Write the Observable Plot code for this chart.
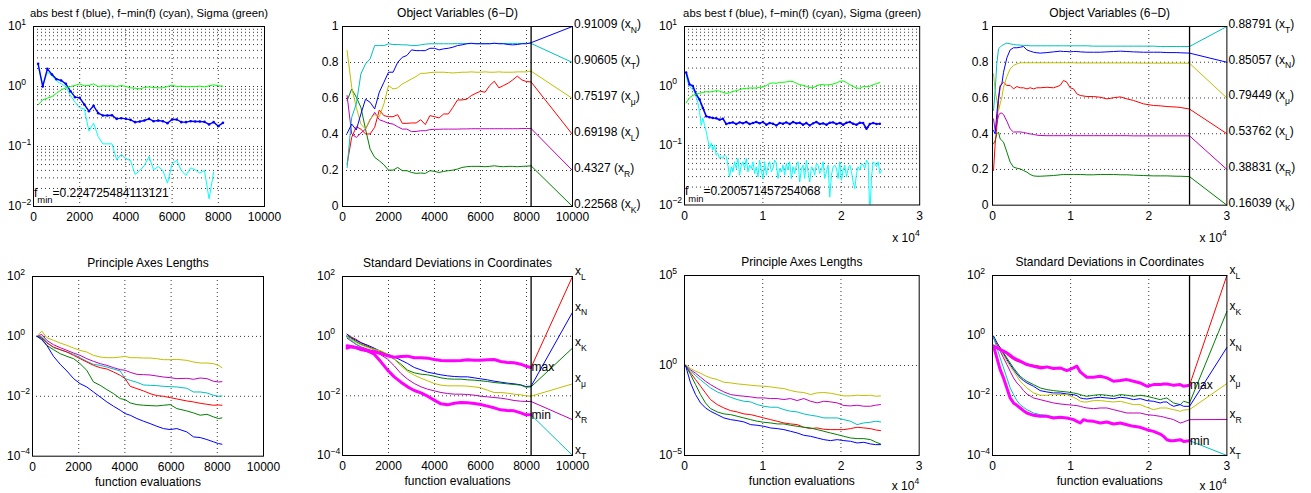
<!DOCTYPE html>
<html>
<head>
<meta charset="utf-8">
<script src="https://cdn.jsdelivr.net/npm/d3@7"></script>
<script src="https://cdn.jsdelivr.net/npm/@observablehq/plot@0.6"></script>
<style>
html,body{margin:0;padding:0;background:#fff;}
#chart{position:relative;width:1311px;height:493px;overflow:hidden;background:#fff;}
.panel{position:absolute;}
.panel svg{display:block;max-width:none;}
</style>
</head>
<body>
<div id="chart"></div>
<script>
// ===================== DATA =====================
// ---- Panel 1: abs best f / f-min(f) / sigma (values are log10) ----
const p1Title = "abs best f (blue), f−min(f) (cyan), Sigma (green)";
const p1Step = 200;
const p1XTicks = [0, 2000, 4000, 6000, 8000, 10000];
const p1YExp = [1, 0, -1, -2];
const p1Best = [0.378,0,0.294,0.2,0.122,0.1,0.044,-0.078,-0.178,-0.189,-0.3,-0.411,-0.322,-0.444,-0.483,-0.483,-0.478,-0.539,-0.528,-0.539,-0.556,-0.594,-0.583,-0.567,-0.539,-0.578,-0.567,-0.578,-0.611,-0.55,-0.55,-0.594,-0.594,-0.578,-0.583,-0.583,-0.589,-0.633,-0.594,-0.661,-0.606];
const p1Diff = [0.35,0.017,0.239,0.183,0.089,0.044,0,-0.15,-0.261,-0.356,-0.372,-0.744,-0.611,-0.833,-0.956,-0.956,-0.956,-1.222,-1.133,-1.206,-1.233,-1.467,-1.4,-1.317,-1.167,-1.389,-1.333,-1.4,-1.611,-1.289,-1.233,-1.4,-1.483,-1.356,-1.389,-1.444,-1.4,-1.872,-1.428];
const p1Sigma = [-0.306,-0.222,-0.194,-0.167,-0.111,-0.056,-0.022,0,0.017,0.044,0.011,0.017,0.044,0,0.011,0.006,0.011,0,0.017,0,-0.022,-0.028,-0.039,-0.017,-0.006,-0.017,-0.022,-0.022,0,0.022,0,0.006,-0.006,0,0,0.006,-0.006,0.011,0.028,0.011,0.006];
const p1Fmin = "f_{min}=0.224725484113121";

// ---- Panel 2: object variables ----
const p2Title = "Object Variables (6−D)";
const p2Step = 200;
const p2LastEval = 8200;
const p2XTicks = [0, 2000, 4000, 6000, 8000, 10000];
const p2YTicks = [0, 0.2, 0.4, 0.6, 0.8, 1];
const p2N = [0.406,0.458,0.425,0.514,0.596,0.579,0.542,0.635,0.690,0.746,0.746,0.801,0.829,0.839,0.870,0.866,0.866,0.866,0.879,0.879,0.870,0.876,0.879,0.885,0.894,0.898,0.904,0.907,0.904,0.904,0.904,0.904,0.907,0.904,0.904,0.900,0.898,0.900,0.904,0.904,0.910];
const p2T = [0.217,0.495,0.570,0.737,0.792,0.820,0.894,0.894,0.894,0.904,0.900,0.900,0.898,0.898,0.894,0.894,0.898,0.902,0.904,0.904,0.904,0.904,0.904,0.904,0.905,0.905,0.905,0.905,0.905,0.905,0.905,0.905,0.906,0.906,0.906,0.906,0.906,0.906,0.906,0.906,0.906];
const p2Mu = [0.866,0.662,0.551,0.458,0.430,0.486,0.510,0.499,0.570,0.672,0.653,0.659,0.681,0.694,0.709,0.722,0.740,0.740,0.744,0.746,0.746,0.746,0.744,0.742,0.744,0.746,0.746,0.748,0.746,0.746,0.748,0.746,0.746,0.748,0.746,0.746,0.746,0.748,0.748,0.748,0.752];
const p2L = [0.236,0.384,0.443,0.430,0.403,0.403,0.440,0.536,0.505,0.499,0.499,0.510,0.462,0.462,0.464,0.464,0.482,0.455,0.505,0.499,0.492,0.514,0.514,0.551,0.592,0.592,0.596,0.616,0.629,0.640,0.635,0.672,0.696,0.659,0.672,0.685,0.703,0.724,0.703,0.694,0.692];
const p2R = [0.616,0.403,0.384,0.408,0.430,0.481,0.523,0.482,0.473,0.462,0.458,0.443,0.430,0.430,0.416,0.417,0.421,0.421,0.427,0.429,0.429,0.430,0.430,0.430,0.430,0.431,0.431,0.432,0.432,0.432,0.432,0.432,0.432,0.432,0.432,0.432,0.432,0.432,0.433,0.433,0.433];
const p2K = [0.588,0.653,0.607,0.551,0.430,0.319,0.273,0.254,0.232,0.202,0.202,0.217,0.199,0.199,0.189,0.184,0.186,0.184,0.199,0.195,0.189,0.195,0.199,0.202,0.208,0.217,0.221,0.223,0.223,0.223,0.221,0.223,0.226,0.223,0.221,0.223,0.223,0.221,0.223,0.224,0.226];
const p2Names = ["N", "T", "μ", "L", "R", "K"];
const p2FinalText = ["0.91009", "0.90605", "0.75197", "0.69198", "0.4327", "0.22568"];
const p2LabelPos = [1, 0.8, 0.6, 0.4, 0.2, 0];

// ---- Panel 3: second run, f values (log10) ----
const p3Title = "abs best f (blue), f−min(f) (cyan), Sigma (green)";
const p3Step = 213;
const p3XTicks = [0, 10000, 20000, 30000];
const p3YExp = [1, 0, -1, -2];
const p3Best = [0.226,0.028,0,-0.141,-0.226,-0.368,-0.509,-0.526,-0.538,-0.543,
 -0.566,-0.549,-0.639,-0.623,-0.611,-0.639,-0.611,-0.628,-0.606,-0.639,
 -0.623,-0.606,-0.628,-0.606,-0.651,-0.623,-0.634,-0.662,-0.623,-0.634,
 -0.611,-0.639,-0.606,-0.628,-0.617,-0.651,-0.623,-0.662,-0.628,-0.606,
 -0.639,-0.628,-0.651,-0.617,-0.611,-0.639,-0.623,-0.651,-0.617,-0.606,
 -0.634,-0.651,-0.617,-0.623,-0.719,-0.639,-0.623,-0.639,-0.634];
const p3Sigma = [-0.283,-0.198,-0.158,-0.136,-0.125,-0.108,-0.096,-0.102,-0.091,-0.079,
 -0.085,-0.108,-0.125,-0.113,-0.091,-0.079,-0.062,-0.045,-0.04,-0.034,
 -0.034,-0.034,-0.023,-0.017,0.006,0.045,0.051,0.045,0.062,0.062,
 0.068,0.079,0.074,0.045,0.023,0.011,-0.006,-0.028,-0.028,0,
 0.023,0.023,0.017,0.023,0.034,0.051,0.079,0.085,0.057,0.023,
 -0.006,-0.034,-0.04,-0.006,-0.011,-0.006,0.023,0.04,0.057];
const p3Diff = [0.187,0.057,0,-0.04,-0.062,-0.096,-0.187,-0.283,-0.424,-0.662,
 -0.538,-0.662,-0.764,-0.905,-1.047,-0.962,-1.075,-0.99,-1.16,-1.132,
 -1.217,-1.188,-1.217,-1.16,-1.188,-1.33,-1.528,-1.358,-1.443,-1.273,
 -1.387,-1.217,-1.5,-1.33,-1.273,-1.387,-1.217,-1.443,-1.33,-1.387,
 -1.273,-1.471,-1.358,-1.528,-1.245,-1.415,-1.556,-1.273,-1.5,-1.358,
 -1.273,-1.443,-1.387,-1.245,-1.302,-1.556,-1.387,-1.443,-1.33,-1.5,
 -1.302,-1.415,-1.273,-1.556,-1.358,-1.471,-1.33,-1.273,-1.613,-1.387,
 -1.33,-1.556,-1.245,-1.443,-1.613,-1.358,-1.387,-1.5,-1.302,-1.33,
 -1.471,-1.415,-1.273,-1.556,-1.443,-1.33,-1.868,-1.5,-1.358,-1.33,
 -1.387,-1.556,-1.273,-1.585,-1.415,-1.33,-1.528,-1.387,-1.33,-1.443,
 -1.613,-1.726,-1.471,-1.358,-1.415,-1.302,-1.33,-1.387,-1.245,-1.302,
 -2.179,-1.528,-1.273,-1.302,-1.358,-1.273,-1.471,-1.415];
const p3Fmin = "f_{min}=0.200571457254068";

// ---- Panel 4: object variables, second run ----
const p4Title = "Object Variables (6−D)";
const p4LastEval = 25220;
const p4XTicks = [0, 10000, 20000, 30000];
const p4YTicks = [0, 0.2, 0.4, 0.6, 0.8, 1];
const p4Evals = [130,340,550,770,980,1200,1410,1840,2260,2690,3120,3540,3970,4400,4820,5250,5680,6100,6960,7810,8660,9090,9520,9940,10370,10800,11230,12080,12930,13790,14640,15490,16350,17200,18050,19330,20610,21470,22320,23600,24030,25220];
const p4T = [0.530,0.642,0.791,0.875,0.884,0.894,0.899,0.907,0.903,0.899,0.897,0.896,0.894,0.894,0.892,0.892,0.892,0.892,0.892,0.892,0.892,0.892,0.892,0.892,0.892,0.892,0.892,0.892,0.890,0.890,0.890,0.890,0.890,0.890,0.890,0.890,0.890,0.888,0.888,0.888,0.888,0.888];
const p4N = [0.418,0.399,0.511,0.604,0.670,0.679,0.744,0.825,0.869,0.881,0.881,0.884,0.888,0.869,0.862,0.856,0.853,0.851,0.854,0.858,0.862,0.860,0.860,0.858,0.860,0.860,0.858,0.856,0.856,0.856,0.858,0.860,0.862,0.860,0.858,0.856,0.856,0.856,0.854,0.854,0.853,0.851];
const p4Mu = [0.735,0.642,0.586,0.530,0.567,0.604,0.660,0.720,0.763,0.782,0.791,0.797,0.797,0.797,0.797,0.797,0.797,0.797,0.797,0.797,0.797,0.797,0.797,0.797,0.797,0.796,0.796,0.796,0.796,0.796,0.796,0.796,0.796,0.796,0.796,0.795,0.795,0.795,0.795,0.795,0.795,0.794];
const p4L = [0.194,0.343,0.437,0.586,0.660,0.679,0.688,0.670,0.670,0.651,0.664,0.657,0.657,0.651,0.657,0.651,0.657,0.657,0.660,0.657,0.670,0.698,0.688,0.657,0.651,0.623,0.614,0.608,0.608,0.604,0.595,0.601,0.606,0.595,0.586,0.567,0.558,0.556,0.552,0.549,0.547,0.538];
const p4R = [0.483,0.418,0.455,0.502,0.515,0.515,0.507,0.470,0.427,0.409,0.410,0.410,0.407,0.403,0.399,0.396,0.392,0.390,0.389,0.389,0.389,0.389,0.389,0.389,0.389,0.389,0.389,0.389,0.389,0.389,0.389,0.389,0.389,0.389,0.388,0.388,0.388,0.388,0.388,0.388,0.388,0.388];
const p4K = [0.343,0.362,0.399,0.409,0.371,0.362,0.353,0.297,0.241,0.213,0.207,0.203,0.194,0.185,0.172,0.164,0.162,0.162,0.164,0.166,0.170,0.172,0.172,0.172,0.172,0.172,0.172,0.170,0.170,0.172,0.172,0.172,0.170,0.170,0.168,0.166,0.164,0.164,0.164,0.162,0.162,0.160];
const p4Names = ["T", "N", "μ", "L", "R", "K"];
const p4FinalText = ["0.88791", "0.85057", "0.79449", "0.53762", "0.38831", "0.16039"];
const p4LabelPos = [1, 0.8, 0.6, 0.4, 0.2, 0];

// ---- Panel 5: principal axes lengths (log10) ----
const p5Title = "Principle Axes Lengths";
const p5XTicks = [0, 2000, 4000, 6000, 8000, 10000];
const p5YExp = [2, 0, -2, -4];
const p5Evals = [200,400,620,910,1200,1490,1780,2060,2350,2640,2930,3220,3510,3800,4010,4230,4520,4810,5090,5380,5670,5960,6250,6680,6970,7260,7550,7840,8050,8200];
const p5Olive = [0,0.178,-0.044,-0.133,-0.222,-0.3,-0.389,-0.467,-0.522,-0.633,-0.689,-0.711,-0.711,-0.689,-0.667,-0.711,-0.711,-0.722,-0.722,-0.744,-0.778,-0.778,-0.767,-0.8,-0.856,-0.889,-0.889,-0.911,-0.967,-1.044];
const p5Magenta = [0,0.067,-0.133,-0.278,-0.378,-0.467,-0.556,-0.633,-0.744,-0.833,-0.911,-0.967,-1.044,-1.111,-1.133,-1.2,-1.267,-1.278,-1.289,-1.322,-1.356,-1.378,-1.411,-1.4,-1.433,-1.389,-1.411,-1.5,-1.522,-1.511];
const p5Cyan = [0,0,-0.189,-0.378,-0.444,-0.522,-0.6,-0.711,-0.833,-0.933,-0.967,-1.022,-1.089,-1.156,-1.411,-1.467,-1.533,-1.622,-1.633,-1.644,-1.667,-1.678,-1.689,-1.733,-1.856,-1.856,-1.889,-1.967,-2.0,-1.989];
const p5Red = [0,-0.044,-0.222,-0.356,-0.444,-0.522,-0.633,-0.744,-0.856,-0.967,-1.044,-1.089,-1.189,-1.3,-1.411,-1.667,-1.744,-1.822,-1.911,-1.978,-2.0,-2.044,-2.089,-2.156,-2.189,-2.233,-2.267,-2.3,-2.289,-2.3];
const p5Green = [0,-0.078,-0.3,-0.444,-0.578,-0.667,-0.744,-0.911,-1.133,-1.522,-1.633,-1.778,-1.911,-2.078,-2.111,-2.222,-2.278,-2.3,-2.311,-2.322,-2.3,-2.278,-2.411,-2.489,-2.556,-2.633,-2.6,-2.689,-2.744,-2.722];
const p5Blue = [0,-0.111,-0.3,-0.667,-0.933,-1.156,-1.411,-1.578,-1.689,-1.856,-2.022,-2.189,-2.333,-2.467,-2.578,-2.633,-2.744,-2.833,-2.911,-3.0,-3.078,-3.111,-3.078,-3.189,-3.356,-3.378,-3.444,-3.522,-3.578,-3.6];

// ---- Panel 6: standard deviations in coordinates (log10) ----
const p6Title = "Standard Deviations in Coordinates";
const p6LastEval = 8200;
const p6XTicks = [0, 2000, 4000, 6000, 8000, 10000];
const p6YExp = [2, 0, -2, -4];
const p6Evals = [200,360,580,800,1090,1380,1670,1960,2250,2540,2830,3120,3410,3700,3990,4280,4570,4860,5150,5440,5730,6010,6300,6590,6880,7170,7460,7750,7970,8200];
const p6Max = [-0.324,-0.346,-0.380,-0.447,-0.492,-0.525,-0.581,-0.659,-0.704,-0.682,-0.670,-0.726,-0.726,-0.737,-0.782,-0.816,-0.827,-0.827,-0.816,-0.793,-0.804,-0.804,-0.793,-0.782,-0.849,-0.883,-0.894,-0.939,-1.006,-1.050];
const p6Min = [-0.402,-0.358,-0.380,-0.425,-0.492,-0.603,-0.860,-1.140,-1.363,-1.542,-1.698,-1.821,-1.899,-2.011,-2.145,-2.268,-2.302,-2.246,-2.223,-2.235,-2.257,-2.291,-2.346,-2.402,-2.469,-2.492,-2.503,-2.570,-2.637,-2.637];
const p6L = [0.067,-0.022,-0.101,-0.212,-0.324,-0.469,-0.581,-0.659,-0.704,-0.682,-0.670,-0.726,-0.726,-0.737,-0.782,-0.816,-0.827,-0.827,-0.816,-0.793,-0.804,-0.804,-0.793,-0.782,-0.849,-0.883,-0.894,-0.939,-1.006,-1.050];
const p6N = [0.067,-0.045,-0.134,-0.223,-0.302,-0.402,-0.514,-0.603,-0.693,-0.804,-0.916,-1.050,-1.128,-1.207,-1.251,-1.296,-1.330,-1.352,-1.363,-1.363,-1.397,-1.430,-1.464,-1.508,-1.542,-1.575,-1.598,-1.631,-1.687,-1.676];
const p6K = [0.011,-0.067,-0.179,-0.268,-0.358,-0.436,-0.514,-0.637,-0.771,-0.939,-1.140,-1.229,-1.274,-1.296,-1.341,-1.397,-1.430,-1.441,-1.441,-1.464,-1.475,-1.497,-1.520,-1.553,-1.575,-1.598,-1.620,-1.642,-1.709,-1.698];
const p6Mu = [-0.022,-0.101,-0.212,-0.291,-0.380,-0.447,-0.492,-0.603,-0.771,-0.994,-1.184,-1.307,-1.408,-1.497,-1.587,-1.642,-1.665,-1.665,-1.665,-1.676,-1.698,-1.732,-1.810,-1.888,-1.888,-1.911,-1.944,-1.966,-2.0,-2.011];
const p6R = [-0.067,-0.156,-0.268,-0.358,-0.436,-0.514,-0.626,-0.771,-0.994,-1.251,-1.441,-1.587,-1.698,-1.777,-1.832,-1.888,-1.922,-1.944,-1.944,-1.955,-1.978,-2.011,-2.034,-2.056,-2.078,-2.112,-2.156,-2.179,-2.190,-2.190];
const p6T = [-0.022,-0.134,-0.268,-0.380,-0.469,-0.603,-0.860,-1.140,-1.363,-1.542,-1.698,-1.821,-1.899,-2.011,-2.145,-2.268,-2.302,-2.246,-2.223,-2.235,-2.257,-2.291,-2.346,-2.402,-2.469,-2.492,-2.503,-2.570,-2.637,-2.637];
const p6Names = ["L", "N", "K", "μ", "R", "T"];
const p6LabelExp = [2, 0.8, -0.4, -1.6, -2.8, -4];

// ---- Panel 7: principal axes lengths, second run (log10) ----
const p7Title = "Principle Axes Lengths";
const p7XTicks = [0, 10000, 20000, 30000];
const p7YExp = [5, 0, -5];
const p7Evals = [130,770,1410,2050,2680,3320,4180,5030,5880,6730,7590,8440,9290,10140,10990,11850,12700,13550,14400,15250,16110,16960,17810,18660,19520,20370,21220,22070,22920,23780,24420,25060];
const p7Olive = [0.056,-0.167,-0.315,-0.427,-0.575,-0.687,-0.779,-0.928,-0.965,-1.020,-1.058,-1.095,-1.132,-1.150,-1.187,-1.243,-1.280,-1.391,-1.466,-1.503,-1.614,-1.521,-1.503,-1.540,-1.614,-1.688,-1.688,-1.651,-1.670,-1.651,-1.707,-1.688];
const p7Magenta = [0,-0.241,-0.427,-0.649,-0.872,-1.058,-1.280,-1.466,-1.614,-1.670,-1.707,-1.744,-1.800,-1.800,-1.837,-1.837,-1.892,-1.837,-1.948,-1.837,-1.985,-2.078,-1.985,-2.022,-2.078,-2.226,-2.245,-2.208,-2.263,-2.263,-2.208,-2.171];
const p7Cyan = [0,-0.315,-0.557,-0.798,-1.020,-1.243,-1.466,-1.614,-1.763,-1.892,-1.985,-2.022,-2.171,-2.263,-2.319,-2.319,-2.449,-2.542,-2.579,-2.690,-2.764,-2.820,-2.913,-2.913,-2.913,-3.006,-3.098,-3.284,-3.191,-3.154,-3.098,-3.135];
const p7Red = [0,-0.408,-0.779,-1.150,-1.521,-1.892,-2.171,-2.356,-2.505,-2.579,-2.690,-2.727,-2.820,-2.913,-3.006,-3.098,-3.191,-3.247,-3.284,-3.432,-3.506,-3.469,-3.544,-3.562,-3.562,-3.562,-3.506,-3.432,-3.469,-3.506,-3.581,-3.618];
const p7Green = [0,-0.501,-1.058,-1.614,-2.078,-2.393,-2.579,-2.690,-2.727,-2.820,-2.913,-3.006,-3.098,-3.154,-3.191,-3.247,-3.247,-3.321,-3.377,-3.432,-3.469,-3.562,-3.655,-3.748,-3.840,-3.933,-4.026,-4.063,-4.063,-4.119,-4.249,-4.360];
const p7Blue = [0,-0.965,-1.614,-2.078,-2.356,-2.542,-2.727,-2.913,-3.006,-3.061,-3.135,-3.284,-3.321,-3.377,-3.469,-3.506,-3.562,-3.655,-3.748,-3.878,-3.933,-4.026,-4.119,-4.174,-4.119,-4.174,-4.211,-4.304,-4.267,-4.360,-4.397,-4.397];

// ---- Panel 8: standard deviations in coordinates, second run (log10) ----
const p8Title = "Standard Deviations in Coordinates";
const p8LastEval = 25220;
const p8XTicks = [0, 10000, 20000, 30000];
const p8YExp = [2, 0, -2, -4];
const p8Evals = [130,560,980,1410,1840,2260,2690,3120,3540,3970,4400,5250,6100,6960,7810,8660,9520,10370,10800,11230,11650,12080,12930,13790,14640,15490,16350,17200,18050,18910,19760,20610,21470,21900,22320,22750,23180,24030,24460,25220];
const p8Max = [-0.356,-0.412,-0.468,-0.523,-0.579,-0.657,-0.746,-0.802,-0.857,-0.913,-0.969,-1.024,-1.080,-1.047,-1.102,-1.080,-1.169,-1.080,-1.024,-1.214,-1.303,-1.392,-1.392,-1.359,-1.414,-1.526,-1.503,-1.470,-1.526,-1.581,-1.693,-1.637,-1.637,-1.615,-1.615,-1.637,-1.659,-1.637,-1.693,-1.659];
const p8Min = [-0.356,-0.746,-1.136,-1.414,-1.748,-2.082,-2.249,-2.327,-2.416,-2.506,-2.584,-2.661,-2.695,-2.695,-2.751,-2.728,-2.751,-2.806,-2.862,-2.918,-2.806,-2.840,-2.862,-2.918,-2.884,-2.951,-2.918,-2.973,-3.029,-3.062,-3.140,-3.196,-3.285,-3.363,-3.474,-3.508,-3.508,-3.474,-3.530,-3.508];
const p8L = [-0.056,-0.245,-0.412,-0.523,-0.635,-0.724,-0.802,-0.857,-0.891,-0.924,-0.947,-0.991,-1.024,-1.047,-1.102,-1.080,-1.169,-1.080,-1.024,-1.214,-1.303,-1.392,-1.392,-1.359,-1.414,-1.526,-1.503,-1.470,-1.526,-1.581,-1.693,-1.637,-1.637,-1.615,-1.615,-1.637,-1.659,-1.637,-1.693,-1.659];
const p8K = [-0.022,-0.245,-0.412,-0.579,-0.746,-0.913,-1.080,-1.225,-1.359,-1.448,-1.526,-1.637,-1.748,-1.804,-1.837,-1.860,-1.882,-1.915,-1.938,-1.971,-2.004,-2.027,-1.993,-1.971,-1.993,-2.027,-1.971,-1.993,-2.027,-1.993,-2.027,-2.082,-2.138,-2.105,-2.082,-2.171,-2.249,-2.305,-2.194,-2.249];
const p8N = [-0.022,-0.245,-0.434,-0.613,-0.802,-0.969,-1.136,-1.281,-1.414,-1.503,-1.581,-1.693,-1.837,-1.882,-1.915,-1.915,-1.949,-1.971,-2.004,-2.082,-2.105,-2.116,-2.082,-2.060,-2.082,-2.105,-2.060,-2.082,-2.138,-2.105,-2.171,-2.194,-2.249,-2.216,-2.216,-2.305,-2.361,-2.305,-2.361,-2.361];
const p8Mu = [-0.078,-0.278,-0.468,-0.657,-0.857,-1.024,-1.192,-1.359,-1.526,-1.637,-1.748,-1.915,-1.993,-1.993,-1.949,-1.971,-1.971,-2.060,-2.116,-2.194,-2.216,-2.216,-2.171,-2.171,-2.194,-2.216,-2.194,-2.249,-2.305,-2.305,-2.394,-2.472,-2.416,-2.416,-2.416,-2.450,-2.472,-2.528,-2.483,-2.472];
const p8R = [-0.078,-0.301,-0.523,-0.746,-0.969,-1.192,-1.414,-1.581,-1.693,-1.837,-1.949,-2.082,-2.138,-2.194,-2.249,-2.283,-2.305,-2.327,-2.339,-2.361,-2.394,-2.416,-2.439,-2.416,-2.416,-2.472,-2.528,-2.584,-2.584,-2.584,-2.639,-2.661,-2.695,-2.717,-2.751,-2.773,-2.806,-2.918,-2.884,-2.806];
const p8T = [-0.056,-0.412,-0.746,-1.080,-1.414,-1.748,-1.971,-2.171,-2.305,-2.394,-2.472,-2.584,-2.639,-2.661,-2.717,-2.728,-2.751,-2.806,-2.862,-2.918,-2.806,-2.840,-2.862,-2.918,-2.884,-2.951,-2.918,-2.973,-3.029,-3.062,-3.140,-3.196,-3.285,-3.363,-3.474,-3.508,-3.508,-3.474,-3.530,-3.508];
const p8Names = ["L", "K", "N", "μ", "R", "T"];
const p8LabelExp = [2, 0.8, -0.4, -1.6, -2.8, -4];

const xLabel = "function evaluations";
const xExpLabel = "x 10^{4}";

// ===================== STYLE / LAYOUT =====================
const FONT = '"Liberation Sans", Arial, Helvetica, sans-serif';
const C = {blue:"#0000ff", dgreen:"#008000", red:"#ff0000", cyan:"#00bfbf", magenta:"#bf00bf",
  olive:"#bfbf00", bcyan:"#00ffff", bgreen:"#00ff00", pink:"#ff00ff"};
const FR = {
  p1:[32.5,26,263.5,206], p2:[341.7,26,571.7,206], p3:[683.5,26,918.7,204.5], p4:[992.3,26,1226.7,204.7],
  p5:[32.3,276,263.3,455.7], p6:[341.7,276,571.7,455], p7:[684,274.5,918.7,454.5], p8:[992.3,274.5,1226.7,454.5]
};

// ===================== HELPERS =====================
const stepX = (n, start, step) => Array.from({length: n}, (_, i) => start + step * i);
const pts = (xs, ys, isLog) => ys.map((v, i) => ({x: xs[i], y: isLog ? 10 ** v : v}));
const line = (xs, ys, stroke, isLog, o = {}) =>
  Plot.line(pts(xs, ys, isLog), {x: "x", y: "y", stroke, strokeWidth: 1, ...o});
const conn = (x0, y0, x1, y1, stroke) =>
  Plot.line([{x: x0, y: y0}, {x: x1, y: y1}], {x: "x", y: "y", stroke, strokeWidth: 1});
const gridY = v => Plot.ruleY(v, {stroke: "#000", strokeWidth: 0.8, strokeDasharray: "1,3"});
const gridX = v => Plot.ruleX(v, {stroke: "#000", strokeWidth: 0.8, strokeDasharray: "1,3"});
const expStr = d => (d < 0 ? "−" + (-d) : String(d));
const logLabels = exps => Plot.text(exps, {y: d => 10 ** d, text: d => `10^{${expStr(d)}}`,
  frameAnchor: "left", textAnchor: "start", lineAnchor: "middle", dx: -25.5});
const linLabels = vals => Plot.text(vals, {y: d => d, text: d => String(d),
  frameAnchor: "left", textAnchor: "end", lineAnchor: "middle", dx: -4});
const title = (t, fs = 12) => Plot.text([t], {frameAnchor: "top", lineAnchor: "middle", dy: -13, fontSize: fs});
const xlab = () => Plot.text([xLabel], {frameAnchor: "bottom", lineAnchor: "middle", dy: 25.5});
const xexp = dy => Plot.text([xExpLabel], {frameAnchor: "bottom-right", textAnchor: "end", lineAnchor: "middle", dy});
const frame = () => Plot.frame({stroke: "#000", strokeWidth: 1});
const minorLog = (e0, e1) => { const a = []; for (let e = e0; e < e1; e++) for (let m = 1; m <= 9; m++) if (!(m === 1 && e === e0)) a.push(m * 10 ** e); return a; };

function richify(svg) {
  svg.querySelectorAll("text").forEach(el => {
    const t = el.textContent;
    if (!/[_^]/.test(t) || el.querySelector("tspan")) return;
    while (el.firstChild) el.removeChild(el.firstChild);
    const re = /([_^])\{([^}]*)\}|([_^])(.)|([^_^]+)/gu;
    const fs = 12;
    let m, shift = 0;
    while ((m = re.exec(t))) {
      const ts = document.createElementNS("http://www.w3.org/2000/svg", "tspan");
      if (m[5] !== undefined) {
        ts.textContent = m[5];
        if (shift) ts.setAttribute("dy", (-shift).toFixed(2));
        shift = 0;
      } else {
        const sup = (m[1] || m[3]) === "^";
        const s = m[2] !== undefined ? m[2] : m[4];
        const long = s.length > 1 && !sup;
        const d = sup ? -0.47 * fs : (long ? 0.55 * fs : 0.4 * fs);
        ts.setAttribute("font-size", ((long ? 0.78 : 0.72) * fs).toFixed(1));
        ts.setAttribute("dy", (d - shift).toFixed(2));
        ts.textContent = s;
        shift = d;
      }
      el.appendChild(ts);
    }
  });
}

const root = document.getElementById("chart");
function place(fr, mr, opt) {
  const [x0, y0, x1, y1] = fr;
  const ML = 46, MT = 34, MB = 40;
  const svg = Plot.plot({
    width: ML + (x1 - x0) + mr, height: MT + (y1 - y0) + MB,
    marginLeft: ML, marginTop: MT, marginRight: mr, marginBottom: MB,
    style: {fontFamily: FONT, fontSize: "12px", color: "#000", background: "transparent", overflow: "visible"},
    x: {domain: opt.xDomain, ticks: opt.xTicks, tickFormat: opt.xFmt, tickSize: 0, tickPadding: 6, label: null},
    y: {type: opt.yType, domain: opt.yDomain, axis: null},
    marks: opt.marks
  });
  richify(svg);
  const div = document.createElement("div");
  div.className = "panel";
  div.style.left = (x0 - ML) + "px";
  div.style.top = (y0 - MT) + "px";
  div.appendChild(svg);
  root.appendChild(div);
}
const fmtPlain = d => String(d);
const fmt1e4 = d => String(d / 10000);

// ===================== PANEL 1 =====================
{
  const xb = stepX(p1Best.length, p1Step, p1Step);
  const xd = stepX(p1Diff.length, p1Step, p1Step);
  const xs = stepX(p1Sigma.length, p1Step, p1Step);
  place(FR.p1, 12, {
    xDomain: [0, 10000], xTicks: p1XTicks, xFmt: fmtPlain, yType: "log", yDomain: [1e-2, 10],
    marks: [
      gridY(minorLog(-2, 1)), gridX(p1XTicks.slice(1, -1)),
      line(xd, p1Diff, C.bcyan, true, {clip: true}),
      line(xb, p1Best, C.blue, true, {strokeWidth: 1.4}),
      Plot.dot(pts(xb, p1Best, true), {x: "x", y: "y", r: 1.3, fill: C.blue, stroke: null}),
      line(xs, p1Sigma, C.bgreen, true),
      Plot.text([p1Fmin], {frameAnchor: "bottom-left", textAnchor: "start", lineAnchor: "middle", dx: 0.5, dy: -13.5}),
      logLabels(p1YExp), title(p1Title, 11.3), frame()
    ]
  });
}

// ===================== PANEL 2 =====================
{
  const xs = stepX(p2N.length, p2Step, p2Step);
  const series = [p2N, p2T, p2Mu, p2L, p2R, p2K];
  const cols = [C.blue, C.cyan, C.olive, C.red, C.magenta, C.dgreen];
  const marks = [gridY(p2YTicks.slice(1, -1)), gridX(p2XTicks.slice(1, -1))];
  for (let i = series.length - 1; i >= 0; i--) marks.push(line(xs, series[i], cols[i], false));
  series.forEach((s, i) => marks.push(conn(p2LastEval, s[s.length - 1], 10000, p2LabelPos[i], cols[i])));
  marks.push(Plot.ruleX([p2LastEval], {stroke: "#000", strokeWidth: 1.3}));
  marks.push(Plot.text(p2LabelPos, {x: () => 10000, y: d => d, text: (d, i) => `${p2FinalText[i]} (x_${p2Names[i]})`,
    textAnchor: "start", lineAnchor: "middle", dx: 1.5, dy: -2.5}));
  marks.push(linLabels(p2YTicks), title(p2Title), frame());
  place(FR.p2, 95, {xDomain: [0, 10000], xTicks: p2XTicks, xFmt: fmtPlain, yType: "linear", yDomain: [0, 1], marks});
}

// ===================== PANEL 3 =====================
{
  const xd = stepX(p3Diff.length, p3Step, p3Step);
  const xb = stepX(p3Best.length, p3Step, 2 * p3Step);
  const xs = stepX(p3Sigma.length, p3Step, 2 * p3Step);
  place(FR.p3, 12, {
    xDomain: [0, 30000], xTicks: p3XTicks, xFmt: fmt1e4, yType: "log", yDomain: [1e-2, 10],
    marks: [
      gridY(minorLog(-2, 1)), gridX(p3XTicks.slice(1, -1)),
      line(xd, p3Diff, C.bcyan, true, {clip: true}),
      line(xb, p3Best, C.blue, true, {strokeWidth: 1.6}),
      Plot.dot(pts(xb, p3Best, true), {x: "x", y: "y", r: 1.2, fill: C.blue, stroke: null}),
      line(xs, p3Sigma, C.bgreen, true),
      Plot.text([p3Fmin], {frameAnchor: "bottom-left", textAnchor: "start", lineAnchor: "middle", dx: 0.5, dy: -13.5}),
      logLabels(p3YExp), title(p3Title, 11.3), xexp(33), frame()
    ]
  });
}

// ===================== PANEL 4 =====================
{
  const series = [p4T, p4N, p4Mu, p4L, p4R, p4K];
  const cols = [C.cyan, C.blue, C.olive, C.red, C.magenta, C.dgreen];
  const marks = [gridY(p4YTicks.slice(1, -1)), gridX(p4XTicks.slice(1, -1))];
  for (let i = series.length - 1; i >= 0; i--) marks.push(line(p4Evals, series[i], cols[i], false));
  series.forEach((s, i) => marks.push(conn(p4LastEval, s[s.length - 1], 30000, p4LabelPos[i], cols[i])));
  marks.push(Plot.ruleX([p4LastEval], {stroke: "#000", strokeWidth: 1.3}));
  marks.push(Plot.text(p4LabelPos, {x: () => 30000, y: d => d, text: (d, i) => `${p4FinalText[i]} (x_${p4Names[i]})`,
    textAnchor: "start", lineAnchor: "middle", dx: 1.5, dy: -2.5}));
  marks.push(linLabels(p4YTicks), title(p4Title), xexp(33), frame());
  place(FR.p4, 84, {xDomain: [0, 30000], xTicks: p4XTicks, xFmt: fmt1e4, yType: "linear", yDomain: [0, 1], marks});
}

// ===================== PANEL 5 =====================
{
  const series = [p5Olive, p5Magenta, p5Cyan, p5Red, p5Green, p5Blue];
  const cols = [C.olive, C.magenta, C.cyan, C.red, C.dgreen, C.blue];
  const marks = [gridY([1, 1e-2]), gridX(p5XTicks.slice(1, -1))];
  series.forEach((s, i) => marks.push(line(p5Evals, s, cols[i], true)));
  marks.push(logLabels(p5YExp), title(p5Title), xlab(), frame());
  place(FR.p5, 12, {xDomain: [0, 10000], xTicks: p5XTicks, xFmt: fmtPlain, yType: "log", yDomain: [1e-4, 1e2], marks});
}

// ===================== PANEL 6 =====================
{
  const series = [p6L, p6N, p6K, p6Mu, p6R, p6T];
  const cols = [C.red, C.blue, C.dgreen, C.olive, C.magenta, C.cyan];
  const marks = [gridY([1, 1e-2]), gridX(p6XTicks.slice(1, -1))];
  series.forEach((s, i) => marks.push(line(p6Evals, s, cols[i], true)));
  marks.push(line(p6Evals, p6Max, C.pink, true, {strokeWidth: 3}));
  marks.push(line(p6Evals, p6Min, C.pink, true, {strokeWidth: 3}));
  series.forEach((s, i) => marks.push(conn(p6LastEval, 10 ** s[s.length - 1], 10000, 10 ** p6LabelExp[i], cols[i])));
  marks.push(Plot.ruleX([p6LastEval], {stroke: "#000", strokeWidth: 1.3}));
  marks.push(Plot.text(p6LabelExp, {x: () => 10000, y: d => 10 ** d, text: (d, i) => `x_${p6Names[i]}`,
    textAnchor: "start", lineAnchor: "middle", dx: 2.5, dy: -5.5}));
  marks.push(Plot.text(["max", "min"], {x: () => p6LastEval, y: (d, i) => 10 ** (i ? p6Min[p6Min.length - 1] : p6Max[p6Max.length - 1]),
    textAnchor: "start", lineAnchor: "middle", dx: 0.5}));
  marks.push(logLabels(p6YExp), title(p6Title), xlab(), frame());
  place(FR.p6, 30, {xDomain: [0, 10000], xTicks: p6XTicks, xFmt: fmtPlain, yType: "log", yDomain: [1e-4, 1e2], marks});
}

// ===================== PANEL 7 =====================
{
  const series = [p7Olive, p7Magenta, p7Cyan, p7Red, p7Green, p7Blue];
  const cols = [C.olive, C.magenta, C.cyan, C.red, C.dgreen, C.blue];
  const marks = [gridY([1]), gridX(p7XTicks.slice(1, -1))];
  series.forEach((s, i) => marks.push(line(p7Evals, s, cols[i], true)));
  marks.push(logLabels(p7YExp), title(p7Title), xlab(), xexp(30.5), frame());
  place(FR.p7, 12, {xDomain: [0, 30000], xTicks: p7XTicks, xFmt: fmt1e4, yType: "log", yDomain: [1e-5, 1e5], marks});
}

// ===================== PANEL 8 =====================
{
  const series = [p8L, p8K, p8N, p8Mu, p8R, p8T];
  const cols = [C.red, C.dgreen, C.blue, C.olive, C.magenta, C.cyan];
  const marks = [gridY([1, 1e-2]), gridX(p8XTicks.slice(1, -1))];
  series.forEach((s, i) => marks.push(line(p8Evals, s, cols[i], true)));
  marks.push(line(p8Evals, p8Max, C.pink, true, {strokeWidth: 3}));
  marks.push(line(p8Evals, p8Min, C.pink, true, {strokeWidth: 3}));
  series.forEach((s, i) => marks.push(conn(p8LastEval, 10 ** s[s.length - 1], 30000, 10 ** p8LabelExp[i], cols[i])));
  marks.push(Plot.ruleX([p8LastEval], {stroke: "#000", strokeWidth: 1.3}));
  marks.push(Plot.text(p8LabelExp, {x: () => 30000, y: d => 10 ** d, text: (d, i) => `x_${p8Names[i]}`,
    textAnchor: "start", lineAnchor: "middle", dx: 2.5, dy: -5.5}));
  marks.push(Plot.text(["max", "min"], {x: () => p8LastEval, y: (d, i) => 10 ** (i ? p8Min[p8Min.length - 1] : p8Max[p8Max.length - 1]),
    textAnchor: "start", lineAnchor: "middle", dx: 0.5}));
  marks.push(logLabels(p8YExp), title(p8Title), xlab(), xexp(30.5), frame());
  place(FR.p8, 30, {xDomain: [0, 30000], xTicks: p8XTicks, xFmt: fmt1e4, yType: "log", yDomain: [1e-4, 1e2], marks});
}
</script>
</body>
</html>
